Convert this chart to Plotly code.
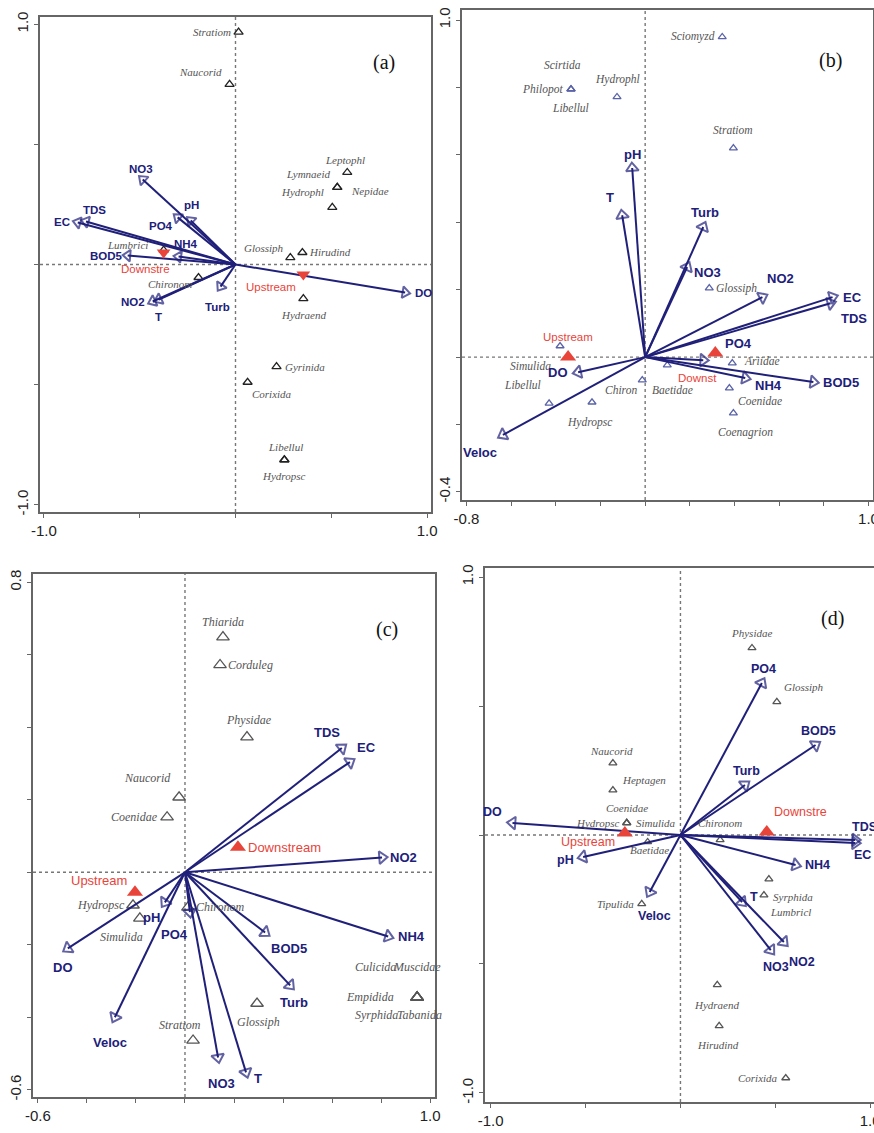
import plotly.graph_objects as go

# ---------------- DATA ----------------
# Panel (a)
A_SP_NAMES = ["Stratiom", "Naucorid", "Leptophl", "Lymnaeid", "Nepidae", "Hydrophl", "Glossiph", "Hirudind",
              "Hydraend", "Gyrinida", "Corixida", "Libellul", "Hydropsc", "Chironom", "Lumbrici"]
A_SP_X = [0.016, -0.031, 0.583, 0.531, 0.531, 0.505, 0.286, 0.349, 0.354, 0.214, 0.063, 0.255, 0.255, -0.193, -0.375]
A_SP_Y = [0.967, 0.75, 0.383, 0.321, 0.321, 0.238, 0.029, 0.05, -0.142, -0.425, -0.49, -0.8125, -0.8125, -0.054, 0.06]
A_SITE_NAMES = ["Upstream", "Downstre"]
A_SITE_X = [0.354, -0.375]
A_SITE_Y = [-0.042, 0.05]
A_ENV_NAMES = ["DO", "NO3", "pH", "PO4", "EC", "TDS", "BOD5", "NH4", "NO2", "T", "Turb"]
A_ENV_X = [0.885, -0.484, -0.302, -0.234, -0.823, -0.78, -0.5625, -0.297, -0.432, -0.40, -0.078]
A_ENV_Y = [-0.117, 0.354, 0.196, 0.183, 0.175, 0.179, 0.0375, 0.033, -0.154, -0.146, -0.092]
A_XTICKS = [-1.0, -0.5, 0.0, 0.5, 1.0]
A_XTICKTEXT = ["-1.0", "", "", "", "1.0"]
A_YTICKS = [-1.0, -0.5, 0.0, 0.5, 1.0]
A_YTICKTEXT = ["-1.0", "", "", "", "1.0"]

# Panel (b)
B_SP_NAMES = ["Sciomyzd", "Scirtida", "Philopot", "Libellul", "Hydrophl", "Stratiom", "Glossiph", "Simulida",
              "Libellul", "Hydropsc", "Chiron", "Baetidae", "Ariidae", "Coenidae", "Coenagrion"]
B_SP_X = [0.345, -0.332, -0.332, -0.332, -0.126, 0.395, 0.287, -0.381, -0.43, -0.238, -0.013, 0.099, 0.39, 0.377, 0.395]
B_SP_Y = [0.95, 0.795, 0.795, 0.795, 0.772, 0.62, 0.205, 0.033, -0.137, -0.134, -0.068, -0.024, -0.018, -0.092, -0.166]
B_SITE_NAMES = ["Upstream", "Downst"]
B_SITE_X = [-0.345, 0.314]
B_SITE_Y = [0.0, 0.012]
B_ENV_NAMES = ["pH", "T", "Turb", "NO3", "NO2", "EC", "TDS", "PO4", "DO", "Veloc", "NH4", "BOD5"]
B_ENV_X = [-0.058, -0.103, 0.26, 0.188, 0.525, 0.839, 0.83, 0.26, -0.30, -0.637, 0.448, 0.753]
B_ENV_Y = [0.561, 0.421, 0.386, 0.267, 0.178, 0.178, 0.16, -0.009, -0.045, -0.231, -0.062, -0.074]
B_XTICKS = [-0.8, -0.6, -0.4, -0.2, 0.0, 0.2, 0.4, 0.6, 0.8, 1.0]
B_XTICKTEXT = ["-0.8", "", "", "", "", "", "", "", "", "1.0"]
B_YTICKS = [-0.4, -0.2, 0.0, 0.2, 0.4, 0.6, 0.8, 1.0]
B_YTICKTEXT = ["-0.4", "", "", "", "", "", "", "1.0"]

# Panel (c)
C_SP_NAMES = ["Thiarida", "Corduleg", "Physidae", "Naucorid", "Coenidae", "Hydropsc", "Simulida", "Chironom",
              "Glossiph", "Stratiom", "Culicida", "Muscidae", "Empidida", "Syrphida", "Tabanida"]
C_SP_X = [0.155, 0.143, 0.253, -0.024, -0.073, -0.212, -0.184, 0.012, 0.294, 0.033, 0.947, 0.947, 0.947, 0.947, 0.947]
C_SP_Y = [0.649, 0.572, 0.373, 0.207, 0.152, -0.091, -0.127, -0.097, -0.362, -0.464, -0.345, -0.345, -0.345, -0.345, -0.345]
C_SITE_NAMES = ["Downstream", "Upstream"]
C_SITE_X = [0.216, -0.204]
C_SITE_Y = [0.069, -0.055]
C_ENV_NAMES = ["TDS", "EC", "NO2", "NH4", "BOD5", "Turb", "T", "NO3", "PO4", "pH", "DO", "Veloc"]
C_ENV_X = [0.64, 0.673, 0.804, 0.829, 0.327, 0.429, 0.249, 0.135, 0.02, -0.082, -0.478, -0.286]
C_ENV_Y = [0.343, 0.304, 0.041, -0.177, -0.166, -0.312, -0.552, -0.511, -0.11, -0.083, -0.21, -0.40]
C_XTICKS = [-0.6, -0.4, -0.2, 0.0, 0.2, 0.4, 0.6, 0.8, 1.0]
C_XTICKTEXT = ["-0.6", "", "", "", "", "", "", "", "1.0"]
C_YTICKS = [-0.6, -0.4, -0.2, 0.0, 0.2, 0.4, 0.6, 0.8]
C_YTICKTEXT = ["-0.6", "", "", "", "", "", "", "0.8"]

# Panel (d)
D_SP_NAMES = ["Physidae", "Glossiph", "Naucorid", "Heptagen", "Coenidae", "Hydropsc", "Simulida", "Baetidae",
              "Chironom", "Tipulida", "Syrphida", "Lumbricl", "Hydraend", "Hirudind", "Corixida"]
D_SP_X = [0.377, 0.508, -0.356, -0.356, -0.283, -0.283, -0.283, -0.173, 0.209, -0.204, 0.44, 0.466, 0.194, 0.204, 0.555]
D_SP_Y = [0.725, 0.516, 0.279, 0.174, 0.047, 0.047, 0.047, -0.027, -0.019, -0.267, -0.233, -0.171, -0.581, -0.74, -0.942]
D_SITE_NAMES = ["Downstre", "Upstream"]
D_SITE_X = [0.455, -0.293]
D_SITE_Y = [0.012, 0.008]
D_ENV_NAMES = ["PO4", "BOD5", "Turb", "DO", "pH", "TDS", "EC", "NH4", "Veloc", "T", "NO3", "NO2"]
D_ENV_X = [0.429, 0.712, 0.34, -0.885, -0.513, 0.921, 0.921, 0.607, -0.162, 0.325, 0.476, 0.545]
D_ENV_Y = [0.589, 0.349, 0.194, 0.047, -0.085, -0.019, -0.031, -0.116, -0.221, -0.26, -0.446, -0.415]
D_XTICKS = [-1.0, -0.5, 0.0, 0.5, 1.0]
D_XTICKTEXT = ["-1.0", "", "", "", "1.0"]
D_YTICKS = [-1.0, -0.5, 0.0, 0.5, 1.0]
D_YTICKTEXT = ["-1.0", "", "", "", "1.0"]

# ---------------- STYLE ----------------
W, H = 874, 1133
NAVY = "#20207a"
RED = "#e8443a"

# label placements (xanchor, xshift px, yshift px), aligned with the lists above
A_SP_LBL = [("right", -6, 0), ("right", -6, 12), ("center", -2, 12), ("right", -4, 13), ("left", 12, -4),
            ("right", -6, 15), ("right", -4, 10), ("left", 5, 0), ("center", 0, -16), ("left", 6, 0),
            ("left", 2, -12), ("center", 1, 13), ("center", -1, -16), ("right", -5, -7), ("right", -14, 5)]
A_SITE_LBL = [("center", -32, -12), ("center", -18, -17)]
A_ENV_LBL = [("left", 8, 0), ("center", -2, 10), ("center", 14, 12), ("center", -30, -5), ("right", -6, 0),
             ("center", 8, 11), ("right", -3, -1), ("center", 7, 13), ("right", -6, 0), ("center", 0, -17),
             ("center", -3, -20)]

B_SP_LBL = [("right", -5, 0), ("center", -9, 24), ("right", -6, 0), ("center", -1, -19), ("center", 0, 17),
            ("center", 0, 18), ("left", 5, 0), ("right", -7, -20), ("right", -6, 18), ("center", -3, -20),
            ("right", -3, -10), ("center", 5, -25), ("left", 10, 2), ("left", 7, -13), ("center", 12, -19)]
B_SITE_LBL = [("center", 0, 20), ("center", -18, -25)]
B_ENV_LBL = [("center", 0, 14), ("center", -12, 18), ("center", 2, 15), ("left", 5, -5), ("center", 18, 19),
             ("left", 8, 0), ("left", 8, -15), ("left", 20, 17), ("right", -8, 0), ("center", -23, -18),
             ("left", 8, -7), ("left", 8, 0)]

C_SP_LBL = [("center", 0, 15), ("left", 6, 0), ("center", 2, 17), ("right", -6, 19), ("right", -7, 0),
            ("right", -6, 0), ("center", -18, -19), ("left", 6, 0), ("center", 1, -19), ("center", -13, 15),
            ("center", -42, 30), ("center", 0, 30), ("center", -47, 0), ("center", -41, -18), ("center", 2, -18)]
C_SITE_LBL = [("left", 8, 0), ("right", -6, 12)]
C_ENV_LBL = [("center", -15, 15), ("left", 5, 15), ("left", 6, 0), ("left", 8, 0), ("center", 24, -16),
             ("center", 4, -17), ("left", 6, -6), ("center", 3, -26), ("center", -15, -22), ("center", -13, -15),
             ("center", -5, -19), ("center", -5, -25)]

D_SP_LBL = [("center", 0, 15), ("center", 27, 15), ("center", -1, 12), ("center", 31, 10), ("center", 0, 15),
            ("right", -6, 0), ("left", 7, 0), ("center", 2, -8), ("center", 0, 17), ("right", -6, 0),
            ("left", 7, -2), ("center", 22, -33), ("center", -1, -20), ("center", -1, -19), ("right", -6, 0)]
D_SITE_LBL = [("center", 34, 20), ("right", -8, -9)]
D_ENV_LBL = [("center", 2, 14), ("center", 3, 14), ("center", 2, 14), ("center", -20, 11), ("right", -7, -3),
             ("left", -5, 13), ("left", -3, -12), ("left", 7, 0), ("center", 5, -24), ("left", 6, 5),
             ("center", 5, -17), ("center", 18, -20)]


def px_domain(x0, x1, y0, y1):
    return [x0 / W, x1 / W], [1 - y1 / H, 1 - y0 / H]


PANELS = [
    dict(key="", letter="(a)", letter_px=(384, 62), dom=px_domain(40, 431, 17, 512),
         xr=[-1.02, 1.02], yr=[-1.03, 1.03],
         xt=(A_XTICKS, A_XTICKTEXT), yt=(A_YTICKS, A_YTICKTEXT),
         sp=(A_SP_NAMES, A_SP_X, A_SP_Y, A_SP_LBL), site=(A_SITE_NAMES, A_SITE_X, A_SITE_Y, A_SITE_LBL),
         env=(A_ENV_NAMES, A_ENV_X, A_ENV_Y, A_ENV_LBL),
         sp_color="#222222", sp_size=8, site_symbol="triangle-down", site_size=12,
         env_size=11.5, sp_font=11, site_font=11.5, head=10),
    dict(key="2", letter="(b)", letter_px=(830, 60), dom=px_domain(462, 873, 10, 500),
         xr=[-0.82, 1.02], yr=[-0.424, 1.03],
         xt=(B_XTICKS, B_XTICKTEXT), yt=(B_YTICKS, B_YTICKTEXT),
         sp=(B_SP_NAMES, B_SP_X, B_SP_Y, B_SP_LBL), site=(B_SITE_NAMES, B_SITE_X, B_SITE_Y, B_SITE_LBL),
         env=(B_ENV_NAMES, B_ENV_X, B_ENV_Y, B_ENV_LBL),
         sp_color="#5a63a8", sp_size=7, site_symbol="triangle-up", site_size=14,
         env_size=13, sp_font=11.5, site_font=11.5, head=11),
    dict(key="3", letter="(c)", letter_px=(387, 630), dom=px_domain(33, 435, 574, 1097),
         xr=[-0.62, 1.02], yr=[-0.62, 0.823],
         xt=(C_XTICKS, C_XTICKTEXT), yt=(C_YTICKS, C_YTICKTEXT),
         sp=(C_SP_NAMES, C_SP_X, C_SP_Y, C_SP_LBL), site=(C_SITE_NAMES, C_SITE_X, C_SITE_Y, C_SITE_LBL),
         env=(C_ENV_NAMES, C_ENV_X, C_ENV_Y, C_ENV_LBL),
         sp_color="#555555", sp_size=11, site_symbol="triangle-up", site_size=14,
         env_size=13, sp_font=12, site_font=13, head=11),
    dict(key="4", letter="(d)", letter_px=(832, 618), dom=px_domain(485, 874, 568, 1102),
         xr=[-1.03, 1.02], yr=[-1.035, 1.035],
         xt=(D_XTICKS, D_XTICKTEXT), yt=(D_YTICKS, D_YTICKTEXT),
         sp=(D_SP_NAMES, D_SP_X, D_SP_Y, D_SP_LBL), site=(D_SITE_NAMES, D_SITE_X, D_SITE_Y, D_SITE_LBL),
         env=(D_ENV_NAMES, D_ENV_X, D_ENV_Y, D_ENV_LBL),
         sp_color="#555555", sp_size=7, site_symbol="triangle-up", site_size=14,
         env_size=12.5, sp_font=11, site_font=12.5, head=11),
]

fig = go.Figure()
annotations = []
shapes = []
layout_axes = {}

for p in PANELS:
    k = p["key"]
    xa, ya = "x" + k, "y" + k
    xdom, ydom = p["dom"]
    axis_common = dict(showgrid=False, zeroline=False, showline=True, mirror=True, automargin=False,
                       linecolor="#666666", linewidth=1.5, ticks="outside", ticklen=4,
                       tickcolor="#666666", tickwidth=1.2, ticklabeloverflow="allow",
                       tickfont=dict(family="Liberation Sans", size=15, color="#222222"))
    layout_axes["xaxis" + k] = dict(axis_common, domain=xdom, range=p["xr"], anchor=ya,
                                    tickmode="array", tickvals=p["xt"][0], ticktext=p["xt"][1])
    layout_axes["yaxis" + k] = dict(axis_common, domain=ydom, range=p["yr"], anchor=xa,
                                    tickmode="array", tickvals=p["yt"][0], ticktext=p["yt"][1],
                                    tickangle=-90)

    # dotted zero lines
    shapes.append(dict(type="line", xref=xa, yref=ya, x0=0, x1=0, y0=p["yr"][0], y1=p["yr"][1],
                       line=dict(color="#777777", width=1.4, dash="dot"), layer="below"))
    shapes.append(dict(type="line", xref=xa, yref=ya, x0=p["xr"][0], x1=p["xr"][1], y0=0, y1=0,
                       line=dict(color="#777777", width=1.4, dash="dot"), layer="below"))

    # species triangles
    names, sx, sy, lbl = p["sp"]
    fig.add_trace(go.Scatter(x=sx, y=sy, mode="markers", xaxis=xa, yaxis=ya, showlegend=False,
                             hoverinfo="skip",
                             marker=dict(symbol="triangle-up-open", size=p["sp_size"], color=p["sp_color"],
                                         line=dict(width=1.3, color=p["sp_color"]))))
    for n, x, y, (anc, xs, ys) in zip(names, sx, sy, lbl):
        annotations.append(dict(x=x, y=y, xref=xa, yref=ya, text=n, showarrow=False, xanchor=anc,
                                yanchor="middle", xshift=xs, yshift=ys,
                                font=dict(family="Liberation Serif", size=p["sp_font"], color="#555555",
                                          style="italic")))

    # environmental arrows
    names, ex, ey, lbl = p["env"]
    for n, x, y, (anc, xs, ys) in zip(names, ex, ey, lbl):
        fig.add_trace(go.Scatter(x=[0, x], y=[0, y], mode="lines+markers", xaxis=xa, yaxis=ya,
                                 showlegend=False, hoverinfo="skip",
                                 line=dict(color=NAVY, width=2),
                                 marker=dict(symbol=["circle", "triangle-up-open"], size=[0, p["head"]],
                                             color=NAVY, angleref="previous",
                                             line=dict(width=2, color=NAVY))))
        annotations.append(dict(x=x, y=y, xref=xa, yref=ya, text=n, showarrow=False, xanchor=anc,
                                yanchor="middle", xshift=xs, yshift=ys,
                                font=dict(family="Liberation Sans", size=p["env_size"], color=NAVY,
                                          weight="bold")))

    # sites
    names, tx, ty, lbl = p["site"]
    fig.add_trace(go.Scatter(x=tx, y=ty, mode="markers", xaxis=xa, yaxis=ya, showlegend=False,
                             hoverinfo="skip",
                             marker=dict(symbol=p["site_symbol"], size=p["site_size"], color=RED)))
    for n, x, y, (anc, xs, ys) in zip(names, tx, ty, lbl):
        annotations.append(dict(x=x, y=y, xref=xa, yref=ya, text=n, showarrow=False, xanchor=anc,
                                yanchor="middle", xshift=xs, yshift=ys,
                                font=dict(family="Liberation Sans", size=p["site_font"], color=RED)))

    # panel letter
    lx, ly = p["letter_px"]
    annotations.append(dict(x=lx / W, y=1 - ly / H, xref="paper", yref="paper", text=p["letter"],
                            showarrow=False, xanchor="center", yanchor="middle",
                            font=dict(family="Liberation Serif", size=20, color="#111111")))

fig.update_layout(width=W, height=H, margin=dict(l=0, r=0, t=0, b=0),
                  paper_bgcolor="white", plot_bgcolor="white",
                  annotations=annotations, shapes=shapes, **layout_axes)

fig.write_html("out.html", config={"displayModeBar": False},
               post_script="document.body.style.margin='0';document.body.style.overflow='hidden';")
